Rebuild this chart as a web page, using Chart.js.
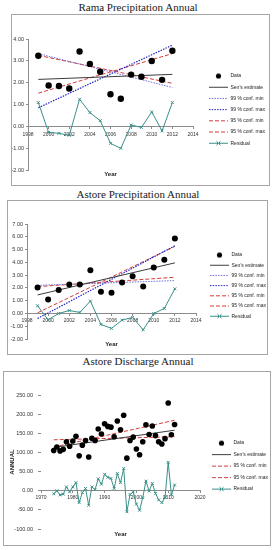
<!DOCTYPE html>
<html><head><meta charset="utf-8">
<script src="https://cdn.jsdelivr.net/npm/chart.js@4"></script>
<style>
html,body{margin:0;padding:0;background:#fff;}
body{width:276px;height:550px;position:relative;overflow:hidden;}
.t{position:absolute;left:0;width:276px;height:14px;line-height:14px;text-align:center;font-family:'Liberation Serif','Times New Roman',serif;font-size:11px;color:#1a1a1a;}
.b{position:absolute;box-sizing:border-box;border:1px solid #a6a6a6;background:#fff;}
.b canvas{position:absolute;left:0;top:0;}
</style></head><body>
<div class="t" style="top:0px">Rama Precipitation Annual</div>
<div class="b" style="left:11px;top:14px;width:259px;height:172px"><canvas id="c1" width="257" height="170"></canvas></div>
<div class="t" style="top:187px">Astore Precipitation Annual</div>
<div class="b" style="left:7px;top:200px;width:261px;height:155px"><canvas id="c2" width="259" height="153"></canvas></div>
<div class="t" style="top:354px">Astore Discharge Annual</div>
<div class="b" style="left:3px;top:371px;width:268px;height:175px"><canvas id="c3" width="266" height="173"></canvas></div>
<script>
// ---------- Rama Precipitation Annual ----------
const ramaYears = [1999, 2000, 2001, 2002, 2003, 2004, 2005, 2006, 2007, 2008, 2009, 2010, 2011, 2012];
const ramaData = [3.23, 1.87, 1.85, 1.73, 3.43, 2.86, 2.50, 1.47, 1.26, 2.37, 2.27, 2.99, 2.13, 3.46];
const ramaResidual = [1.09, -0.28, -0.32, -0.41, 1.24, 0.63, 0.26, -0.78, -1.01, 0.06, -0.05, 0.66, -0.21, 1.09];
// trend lines: value at first year, value at last year
const ramaSen = [2.15, 2.38];
const rama99Min = [3.33, 1.78];
const rama99Max = [0.85, 3.72];
const rama95Min = [3.25, 1.97];
const rama95Max = [1.52, 3.33];

// ---------- Astore Precipitation Annual ----------
const astPYears = [1999, 2000, 2001, 2002, 2003, 2004, 2005, 2006, 2007, 2008, 2009, 2010, 2011, 2012];
const astPData = [2.04, 1.10, 1.83, 2.27, 2.27, 3.39, 1.70, 1.62, 2.43, 2.92, 2.11, 3.60, 4.20, 5.87];
const astPResidual = [0.60, -0.50, 0.00, 0.23, 0.08, 0.97, -0.86, -1.17, -0.52, -0.31, -1.28, 0.00, 0.39, 1.93];
const astPSen = [1.45, 3.96];
const astP99Min = [2.20, 2.57];
const astP99Max = [-0.40, 5.30];
const astP95Min = [2.10, 2.83];
const astP95Max = [0.05, 5.25];

// ---------- Astore Discharge Annual ----------
const astDYears = [1974, 1975, 1976, 1977, 1978, 1979, 1980, 1981, 1982, 1983, 1984, 1985, 1986, 1987, 1988, 1989, 1990, 1991, 1992, 1993, 1994, 1995, 1996, 1997, 1998, 1999, 2000, 2001, 2002, 2003, 2004, 2005, 2006, 2007, 2008, 2009, 2010, 2011, 2012];
const astDData = [105, 114, 104, 108, 128, 116, 130, 142, 91, 119, 131, 88, 137, 131, 161, 148, 175, 168, 166, 141, 182, 159, 197, 85, 131, 140, 109, 94, 128, 172, 147, 169, 144, 128, 122, 136, 229, 146, 173];
const astDResidual = [-8, 0, -11, -9, 10, -3, 10, 21, -31, -5, 6, -38, 10, 3, 31, 17, 43, 35, 32, 6, 45, 21, 58, -55, -10, -3, -35, -51, -18, 25, -1, 19, -7, -24, -31, -18, 74, -11, 15];
const astDSen = [113, 158];
const astD95Min = [133, 141];
const astD95Max = [114, 184];

// ---------- tick labels / axis settings ----------
const precipXTicks = { min: 1998, max: 2014, step: 2 };
const ramaYTicks = { min: -2, max: 4, step: 1 };
const astPYTicks = { min: -2, max: 7, step: 1 };
const dischXTicks = { min: 1970, max: 2020, step: 10 };
const dischYTicks = { min: -100, max: 250, step: 50 };

const FONT = "'Liberation Sans',Arial,sans-serif";
Chart.defaults.font.family = FONT;
Chart.defaults.font.size = 5;
Chart.defaults.color = '#333';
const AX = '#8c8c8c';
const TEAL = '#3a8f88';
const SEN = '#3c3c3c';
const BLUE_L = '#6f6fd8';
const BLUE_D = '#2323c8';
const RED = '#d23c3c';

function icon(kind, color, dash, w) {
  const c = document.createElement('canvas');
  c.width = 19; c.height = 7;
  const x = c.getContext('2d');
  if (kind === 'dot') {
    x.fillStyle = color; x.beginPath(); x.arc(9.5, 3.5, 2.6, 0, Math.PI * 2); x.fill();
  } else {
    x.strokeStyle = color; x.lineWidth = w; x.setLineDash(dash);
    x.beginPath(); x.moveTo(0, 3.5); x.lineTo(19, 3.5); x.stroke();
    if (kind === 'cross') {
      x.setLineDash([]); x.beginPath();
      x.moveTo(7.5, 1.5); x.lineTo(11.5, 5.5); x.moveTo(11.5, 1.5); x.lineTo(7.5, 5.5); x.stroke();
    }
  }
  return c;
}

function pts(years, vals) { return years.map((yr, i) => ({ x: yr, y: vals[i] })); }
function ends(years, e) { return [{ x: years[0], y: e[0] }, { x: years[years.length - 1], y: e[1] }]; }

function dataDs(years, vals, r) {
  return { label: 'Data', data: pts(years, vals), showLine: false, pointRadius: r, pointHoverRadius: r,
    pointBackgroundColor: '#000', pointBorderColor: '#000', pointBorderWidth: 0, icon: icon('dot', '#000') };
}
function lineDs(label, years, e, color, dash, w) {
  return { label, data: ends(years, e), showLine: true, borderColor: color, backgroundColor: color,
    borderWidth: w, borderDash: dash, pointRadius: 0, pointHoverRadius: 0, icon: icon('line', color, dash, w) };
}
function residDs(years, vals) {
  return { label: 'Residual', data: pts(years, vals), showLine: true, borderColor: TEAL, backgroundColor: TEAL,
    borderWidth: 1, pointStyle: 'crossRot', pointRadius: 2, pointBorderColor: TEAL, pointBorderWidth: 1,
    icon: icon('cross', TEAL, [], 1) };
}

function makeChart(id, datasets, g) {
  const scales = {
    x: { type: 'linear', position: { y: 0 }, min: g.x.min, max: g.x.max,
      ticks: { stepSize: g.x.step, autoSkip: false, maxRotation: 0, padding: g.xpad, callback: v => String(v), color: '#333', font: { size: 5 } },
      grid: { display: true, drawOnChartArea: false, drawTicks: true, tickLength: 2, color: AX },
      border: { display: true, color: AX }, afterFit: s => { s.height = 0; } },
    xt: { type: 'linear', axis: 'x', position: 'bottom', min: 0, max: 1,
      grid: { display: false }, border: { display: false }, ticks: { display: false },
      title: { display: true, text: 'Year', color: '#222', font: { size: 6, weight: 'bold' }, padding: { top: 0, bottom: g.tpb } },
      afterFit: s => { s.height = 10; } },
    y: { type: 'linear', position: 'left', min: g.y.min, max: g.y.max,
      ticks: { stepSize: g.y.step, padding: g.ypad, callback: v => v.toFixed(2), color: '#333', font: { size: 5.5 } },
      grid: { display: true, drawOnChartArea: false, drawTicks: true, tickLength: g.ytl, color: AX },
      border: { display: g.yborder, color: AX },
      title: g.ytitle ? { display: true, text: g.ytitle, color: '#222', font: { size: 6, weight: 'bold' }, padding: { top: g.ytp, bottom: 0 } } : { display: false },
      afterFit: s => { s.width = g.yw; } },
    sp: { type: 'linear', axis: 'y', position: 'right', min: 0, max: 1,
      grid: { display: false }, border: { display: false }, ticks: { display: false },
      afterFit: s => { s.width = g.sp; } }
  };
  return new Chart(document.getElementById(id), {
    type: 'scatter',
    data: { datasets },
    options: {
      responsive: false, animation: false, devicePixelRatio: 1,
      layout: { padding: { top: g.pt, left: 0, right: 0, bottom: g.pb } },
      scales,
      plugins: {
        tooltip: { enabled: false },
        legend: {
          display: true, position: 'right', align: 'center', fullSize: false, maxWidth: g.lw,
          title: { display: true, text: ' ', font: { size: 1 }, padding: { top: g.lshift, bottom: 0 } },
          labels: {
            usePointStyle: true, pointStyleWidth: 19, padding: g.lp, color: '#222', font: { size: 5 },
            generateLabels: ch => ch.data.datasets.map((d, i) => ({
              text: d.label, pointStyle: d.icon, datasetIndex: i, hidden: false, lineWidth: 0,
              fillStyle: 'rgba(0,0,0,0)', strokeStyle: 'rgba(0,0,0,0)', fontColor: '#222'
            }))
          }
        }
      }
    }
  });
}

makeChart('c1', [
  dataDs(ramaYears, ramaData, 3.2),
  lineDs("Sen's estimate", ramaYears, ramaSen, SEN, [], 1),
  lineDs('99 % conf. min', ramaYears, rama99Min, BLUE_L, [1.5, 1.2], 1),
  lineDs('99 % conf. max', ramaYears, rama99Max, BLUE_D, [1.5, 1.2], 1.2),
  lineDs('95 % conf. min', ramaYears, rama95Min, RED, [4, 2], 1),
  lineDs('95 % conf. max', ramaYears, rama95Max, RED, [4, 2], 1),
  residDs(ramaYears, ramaResidual)
], { x: precipXTicks, y: ramaYTicks, xpad: 3, tpb: 2.1, ypad: 2, ytl: 2, yborder: true, yw: 16,
     sp: 9.8, pt: 24, pb: 5, lp: 6.2, lshift: 9, lw: 66.2 });

makeChart('c2', [
  dataDs(astPYears, astPData, 3),
  lineDs("Sen's estimate", astPYears, astPSen, SEN, [], 1),
  lineDs('99 % conf. min', astPYears, astP99Min, BLUE_L, [1.5, 1.2], 1),
  lineDs('99 % conf. max', astPYears, astP99Max, BLUE_D, [1.5, 1.2], 1.2),
  lineDs('95 % conf. min', astPYears, astP95Min, RED, [4, 2], 1),
  lineDs('95 % conf. max', astPYears, astP95Max, RED, [4, 2], 1),
  residDs(astPYears, astPResidual)
], { x: precipXTicks, y: astPYTicks, xpad: 2, tpb: 1.1, ypad: 2, ytl: 2, yborder: true, yw: 19,
     sp: 8.8, pt: 23, pb: 5, lp: 5.2, lshift: 7, lw: 62.2 });

makeChart('c3', [
  dataDs(astDYears, astDData, 2.8),
  lineDs("Sen's estimate", astDYears, astDSen, SEN, [], 1),
  lineDs('95 % conf. min', astDYears, astD95Min, RED, [4, 2], 1),
  lineDs('95 % conf. max', astDYears, astD95Max, RED, [4, 2], 1),
  residDs(astDYears, astDResidual)
], { x: dischXTicks, y: dischYTicks, xpad: 2, tpb: 1.1, ypad: 5, ytl: 3, yborder: false, yw: 37,
     ytitle: 'ANNUAL', ytp: 5, sp: 5.5, pt: 23, pb: 6, lp: 6.5, lshift: 7, lw: 64.5 });
</script>
</body></html>
